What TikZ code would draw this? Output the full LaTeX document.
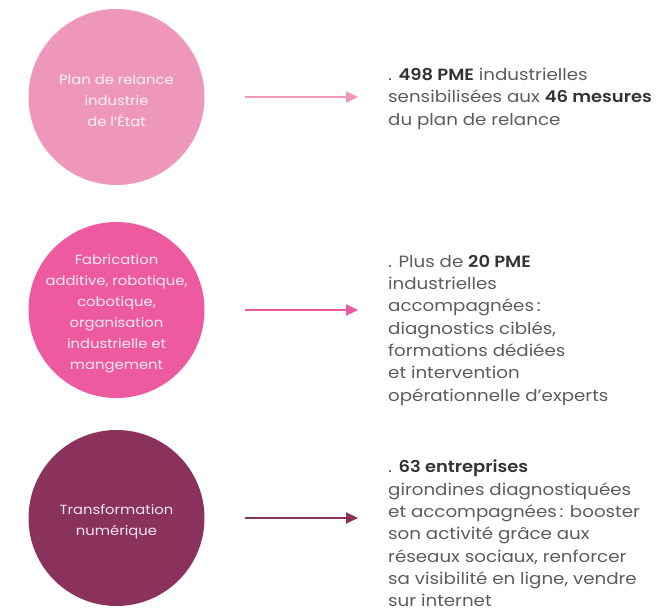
\documentclass[tikz,border=0pt]{standalone}
\usepackage{fontspec}
\setmainfont{Poppins}[FakeStretch=1.12, BoldFont={Poppins SemiBold}, BoldFeatures={FakeStretch=1.1}]
\usetikzlibrary{arrows.meta}
\definecolor{pinkA}{HTML}{EE97BB}
\definecolor{pinkB}{HTML}{EE5A9F}
\definecolor{plum}{HTML}{8B325C}
\definecolor{txtgray}{HTML}{5C5C5C}
\definecolor{txtdark}{HTML}{333333}
\tikzset{
  disc/.style={circle, minimum size=176pt, inner sep=0pt},
  disctext/.style={inner sep=0pt, align=center, text=white, text opacity=0.88,
    font=\fontsize{13.2}{21}\selectfont},
  info/.style={anchor=north west, inner sep=0pt, align=left, text=txtgray,
    font=\fontsize{16.3}{22.3}\selectfont},
  link/.style={line width=2pt, -{Triangle[length=12pt,width=11pt]}},
}
\newcommand{\hl}[1]{\textcolor{txtdark}{\textbf{#1}}}
\begin{document}
\begin{tikzpicture}[x=1pt,y=-1pt]
\useasboundingbox (0,0) rectangle (659,612);
\node[disc, fill=pinkA] (c1) at (116.5,97) {};
\node[disc, fill=pinkB] (c2) at (116.5,310) {};
\node[disc, fill=plum] (c3) at (116.5,518) {};
\node[disctext] (c1t) at ([yshift=-4pt]c1.center) {Plan de relance\\industrie\\de l’État};
\node[disctext] (c2t) at ([yshift=-4pt]c2.center) {Fabrication\\additive, robotique,\\cobotique,\\organisation\\industrielle et\\mangement};
\node[disctext] (c3t) at ([yshift=-4pt]c3.center) {Transformation\\numérique};

\coordinate (a1s) at (245,97);  \coordinate (a1e) at (358,97);
\coordinate (a2s) at (245,310); \coordinate (a2e) at (358,310);
\coordinate (a3s) at (245,518); \coordinate (a3e) at (358,518);
\draw[link, pinkA] (a1s) -- (a1e);
\draw[link, pinkB] (a2s) -- (a2e);
\draw[link, plum] (a3s) -- (a3e);

\node[info] (t1) at (388,68) {. \hl{498 PME} industrielles\\sensibilisées aux \hl{46 mesures}\\du plan de relance};
\node[info] (t2) at (388,255) {. Plus de \hl{20 PME}\\industrielles\\accompagnées\,:\\diagnostics ciblés,\\formations dédiées\\et intervention\\opérationnelle d’experts};
\node[info] (t3) at (388,460) {. \hl{63 entreprises}\\girondines diagnostiquées\\et accompagnées\,: booster\\son activité grâce aux\\réseaux sociaux, renforcer\\sa visibilité en ligne, vendre\\sur internet};
\end{tikzpicture}
\end{document}
